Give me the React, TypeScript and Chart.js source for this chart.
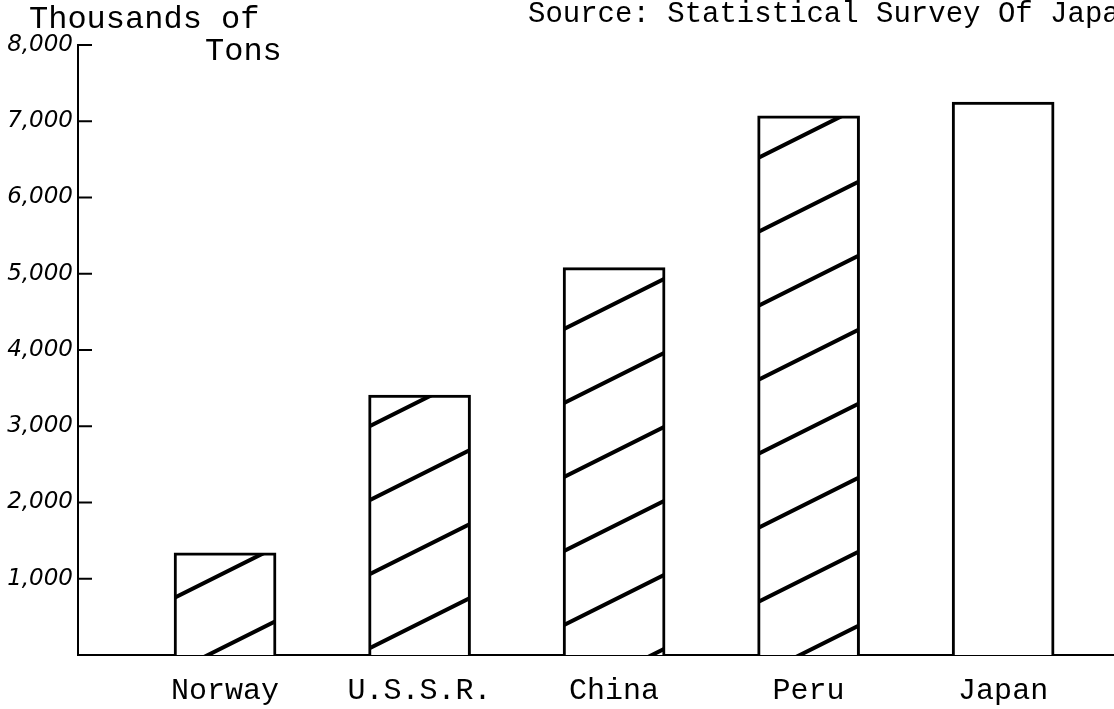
import React, { useEffect, useRef } from "react";
import { Chart, registerables } from "chart.js";

Chart.register(...registerables);

const categories = ["Norway", "U.S.S.R.", "China", "Peru", "Japan"];
const catchValues = [1340, 3410, 5080, 7070, 7250];
const hatched = [true, true, true, true, false];
const yTickValues = [1000, 2000, 3000, 4000, 5000, 6000, 7000, 8000];
const titleLines = ["Thousands of", "Tons"];
const sourceText = "Source: Statistical Survey Of Japan";

function makeHatch(): CanvasPattern | string {
  const W = 148;
  const H = 74;
  const c = document.createElement("canvas");
  c.width = W;
  c.height = H;
  const g = c.getContext("2d");
  if (!g) return "#fff";
  g.fillStyle = "#fff";
  g.fillRect(0, 0, W, H);
  g.strokeStyle = "#000";
  g.lineWidth = 4;
  for (const off of [-H, 0, H]) {
    g.beginPath();
    g.moveTo(-W, 2 * H + off);
    g.lineTo(2 * W, -H + off);
    g.stroke();
  }
  const p = g.createPattern(c, "repeat");
  if (!p) return "#fff";
  try {
    p.setTransform(new DOMMatrix().translate(0, 19));
  } catch (e) {}
  return p;
}

export default function App() {
  const ref = useRef<HTMLCanvasElement | null>(null);
  useEffect(() => {
    if (!ref.current) return;
    const hatch = makeHatch();
    const deco = {
      id: "deco",
      afterDraw(chart: any) {
        const ctx = chart.ctx;
        const y = chart.scales.y;
        ctx.save();
        ctx.strokeStyle = "#000";
        ctx.lineWidth = 2;
        for (const v of yTickValues) {
          const py = y.getPixelForValue(v);
          ctx.beginPath();
          ctx.moveTo(y.right, py);
          ctx.lineTo(y.right + 14, py);
          ctx.stroke();
        }
        ctx.fillStyle = "#000";
        ctx.textBaseline = "middle";
        ctx.font = "32px 'Liberation Mono'";
        ctx.textAlign = "left";
        ctx.fillText(titleLines[0], 29, 20);
        ctx.fillText(titleLines[1], 205, 52);
        ctx.font = "29px 'Liberation Mono'";
        ctx.fillText(sourceText, 528, 14);
        ctx.restore();
      },
    };
    const chart = new Chart(ref.current, {
      type: "bar",
      data: {
        datasets: [
          {
            data: categories.map((_, i) => ({ x: i, y: catchValues[i] })),
            backgroundColor: hatched.map((h) => (h ? hatch : "#fff")) as any,
            borderColor: "#000",
            borderWidth: 3,
            barThickness: 102,
          },
        ],
      },
      options: {
        animation: false,
        responsive: true,
        maintainAspectRatio: false,
        layout: { padding: { top: 45, left: 0, right: 0, bottom: 0 } },
        plugins: { legend: { display: false }, tooltip: { enabled: false } },
        scales: {
          x: {
            type: "linear",
            offset: false,
            min: -0.756,
            max: 4.57,
            afterBuildTicks: (s: any) => {
              s.ticks = categories.map((_, i) => ({ value: i }));
            },
            afterFit: (s: any) => {
              s.height = 54;
            },
            grid: { display: false, drawTicks: false, offset: false },
            border: { display: true, color: "#000", width: 2 },
            ticks: {
              autoSkip: false,
              maxRotation: 0,
              padding: 18,
              color: "#000",
              font: { family: "'Liberation Mono'", size: 30 },
              callback: (v: any) => categories[v] ?? "",
            },
          },
          y: {
            min: 0,
            max: 8000,
            afterBuildTicks: (s: any) => {
              s.ticks = yTickValues.map((v) => ({ value: v }));
            },
            afterFit: (s: any) => {
              s.width = 78;
            },
            grid: { display: false, drawTicks: false },
            border: { display: true, color: "#000", width: 2 },
            ticks: {
              padding: 5,
              color: "#000",
              font: { family: "'DejaVu Sans'", size: 23, style: "italic" },
              callback: (v: any) => Number(v).toLocaleString("en-US"),
            },
          },
        },
      },
      plugins: [deco],
    });
    return () => chart.destroy();
  }, []);
  return (
    <div style={{ position: "absolute", left: 0, top: 0, width: 1114, height: 709, background: "#fff" }}>
      <canvas ref={ref} />
    </div>
  );
}
